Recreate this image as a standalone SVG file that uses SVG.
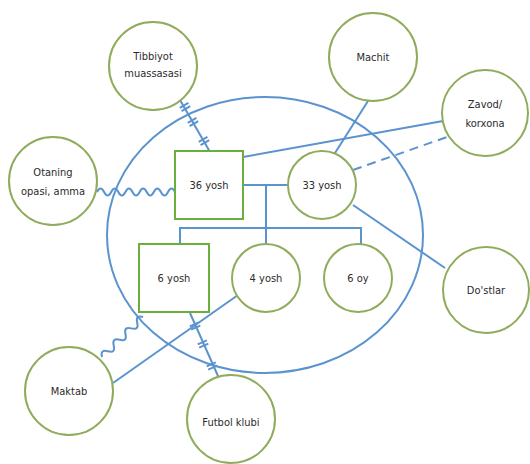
<svg xmlns="http://www.w3.org/2000/svg" width="530" height="464" viewBox="0 0 530 464">
<style>
.c{fill:#fff;stroke:#8fac5c;stroke-width:2}
.b{fill:#fff;stroke:#6aaf3c;stroke-width:2}
.l{fill:none;stroke:#5b93cf;stroke-width:2}
.t{font-family:"DejaVu Sans Condensed","Liberation Sans Narrow","Liberation Sans",sans-serif;font-stretch:condensed;font-size:11px;fill:#2b2b2b;text-anchor:middle;dominant-baseline:central}
</style>
<defs>
<g id="hatch"><line x1="-1.8" y1="-5" x2="-1.8" y2="5" stroke="#5b93cf" stroke-width="2"/><line x1="1.8" y1="-5" x2="1.8" y2="5" stroke="#5b93cf" stroke-width="2"/></g>
</defs>
<rect width="530" height="464" fill="#fff"/>
<g id="connectors">
<ellipse class="l" cx="265" cy="235" rx="158" ry="138"/>
<line class="l" x1="180" y1="100" x2="210" y2="152"/>
<use href="#hatch" transform="translate(185,107) rotate(60)"/>
<use href="#hatch" transform="translate(193,122) rotate(60)"/>
<use href="#hatch" transform="translate(204,141) rotate(60)"/>
<path class="l" d="M97 192 q3.55 -7 7.1 0 t7.1 0 t7.1 0 t7.1 0 t7.1 0 t7.1 0 t7.1 0 t7.1 0 t7.1 0 t7.1 0 t7.1 0"/>
<line class="l" x1="243" y1="157" x2="443" y2="121"/>
<line class="l" x1="368" y1="101" x2="335" y2="153"/>
<line class="l" x1="353" y1="170" x2="447" y2="137" stroke-dasharray="9,6"/>
<line class="l" x1="353" y1="205" x2="445" y2="268"/>
<line class="l" x1="243" y1="185" x2="288" y2="185"/>
<line class="l" x1="266" y1="185" x2="266" y2="244"/>
<line class="l" x1="180" y1="228" x2="362" y2="228"/>
<line class="l" x1="180" y1="227" x2="180" y2="244"/>
<line class="l" x1="361" y1="227" x2="361" y2="244"/>
<path class="l" transform="translate(102,357) rotate(-44.3)" d="M0 0 q4.1 -7 8.2 0 t8.2 0 t8.2 0 t8.2 0 t8.2 0 t8.2 0 t8.2 0"/>
<line class="l" x1="113" y1="383" x2="238" y2="295"/>
<line class="l" x1="190" y1="313" x2="218" y2="376"/>
<use href="#hatch" transform="translate(195,326) rotate(66)"/>
<use href="#hatch" transform="translate(203,344) rotate(66)"/>
<use href="#hatch" transform="translate(212,366) rotate(66)"/>
</g>
<g id="tibbiyot"><circle class="c" cx="153" cy="66" r="44"/><text class="t" x="153" y="56">Tibbiyot</text><text class="t" x="153" y="73">muassasasi</text></g>
<g id="otaning"><circle class="c" cx="53" cy="181" r="44"/><text class="t" x="53" y="172">Otaning</text><text class="t" x="53" y="191">opasi, amma</text></g>
<g id="machit"><circle class="c" cx="373" cy="57" r="44"/><text class="t" x="373" y="57">Machit</text></g>
<g id="zavod"><circle class="c" cx="485" cy="113" r="43"/><text class="t" x="485" y="104">Zavod/</text><text class="t" x="485" y="123">korxona</text></g>
<g id="dostlar"><circle class="c" cx="486" cy="290" r="43"/><text class="t" x="486" y="290">Do'stlar</text></g>
<g id="maktab"><circle class="c" cx="69" cy="391" r="44"/><text class="t" x="69" y="391">Maktab</text></g>
<g id="futbol"><circle class="c" cx="231" cy="419" r="44"/><text class="t" x="231" y="422">Futbol klubi</text></g>
<g id="n36"><rect class="b" x="175" y="151" width="68" height="68"/><text class="t" x="209" y="185">36 yosh</text></g>
<g id="n33"><circle class="c" cx="322" cy="185" r="34"/><text class="t" x="322" y="185">33 yosh</text></g>
<g id="n6y"><rect class="b" x="139" y="244" width="70" height="68"/><text class="t" x="174" y="278">6 yosh</text></g>
<g id="n4"><circle class="c" cx="266" cy="278" r="34"/><text class="t" x="266" y="278">4 yosh</text></g>
<g id="n6oy"><circle class="c" cx="358" cy="278" r="34"/><text class="t" x="358" y="278">6 oy</text></g>
</svg>
